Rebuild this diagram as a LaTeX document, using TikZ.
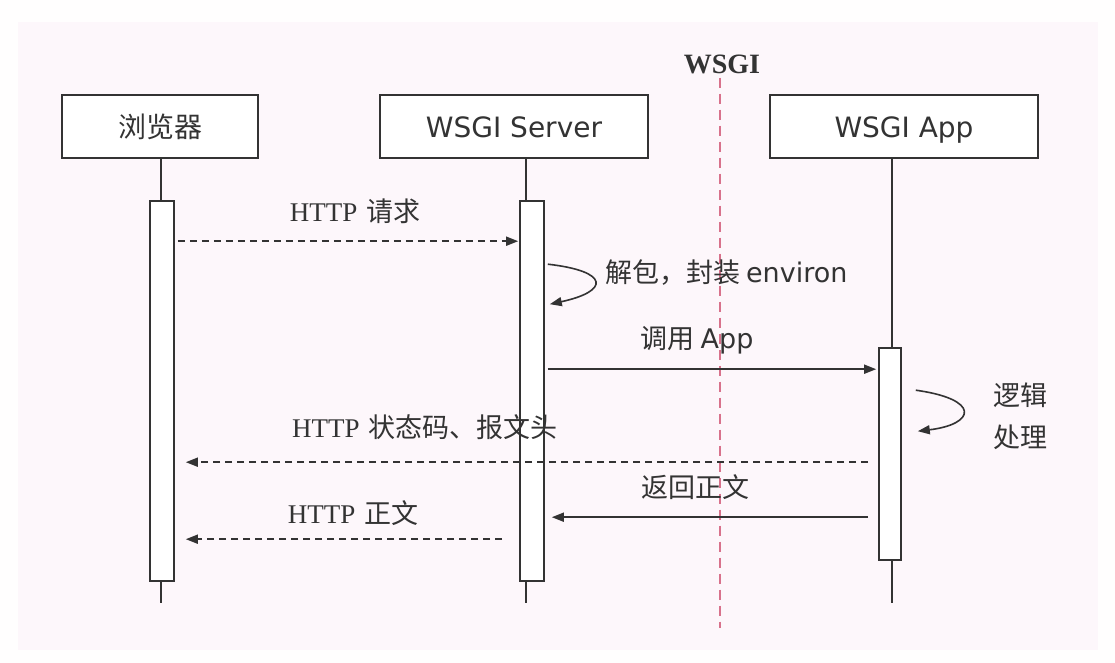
\documentclass[tikz,border=0pt]{standalone}
\usepackage{fontspec}
\setmainfont{DejaVu Sans}
\newfontfamily\cjk{Noto Sans CJK SC}
\newfontfamily\tms{Liberation Serif}
\usetikzlibrary{arrows.meta,calc}
\definecolor{ink}{HTML}{333333}
\definecolor{bgpink}{HTML}{FDF7FB}
\definecolor{cut}{HTML}{D8728C}
\tikzset{msg/.style={draw=ink, line width=1.6pt, -{Triangle[length=12pt,width=9pt]}},
  ret/.style={msg, dash pattern=on 7pt off 5pt},
  life/.style={draw=ink, line width=1.6pt},
  actor/.style={draw=ink, line width=2pt, fill=white, minimum height=63pt, inner sep=0pt, text=ink,
    text height=24pt, text depth=3pt, font=\fontsize{28}{32}\selectfont},
  bar/.style={draw=ink, line width=1.6pt, fill=white, minimum width=24pt, inner sep=0pt},
  lbl/.style={inner sep=0pt, text=ink, font=\fontsize{27}{32}\selectfont}}

\begin{document}
\begin{tikzpicture}[x=1pt,y=-1pt]
  \fill[white!98!pink] (0,0) rectangle (1115,663);
  \fill[bgpink] (18,22) rectangle (1098,650);
  % participants
  \node[actor, minimum width=196pt] (brw) at (160,127) {\cjk 浏览器};
  \node[actor, minimum width=268pt] (srv) at (514,127) {WSGI Server};
  \node[actor, minimum width=268pt] (app) at (904,127) {WSGI App};
  % interface line
  \node[inner sep=0pt, text=ink, font=\tms\bfseries\fontsize{28}{30}\selectfont] (wsgi) at (722,64) {WSGI};
  \coordinate (cutend) at (720,628);
  \draw[cut, line width=1.4pt, dash pattern=on 10pt off 6pt] (wsgi.south -| cutend) ++(0,4) -- (cutend);
  % activation bars
  \node[bar, minimum height=380pt] (bbar) at (162,391) {};
  \node[bar, minimum height=380pt] (sbar) at (532,391) {};
  \node[bar, minimum width=22pt, minimum height=212pt] (abar) at (890,454) {};
  \coordinate (bend) at (161,603);
  \coordinate (send) at (526,603);
  \coordinate (aend) at (892,603);
  \draw[life] (brw.south -| bend) -- (bbar.north -| bend);
  \draw[life] (bbar.south -| bend) -- (bend);
  \draw[life] (srv.south -| send) -- (sbar.north -| send);
  \draw[life] (sbar.south -| send) -- (send);
  \draw[life] (app.south -| aend) -- (abar.north -| aend);
  \draw[life] (abar.south -| aend) -- (aend);
  % request
  \draw[ret] ($(bbar.north east)+(3,41)$) -- ($(sbar.north west)+(-1,41)$)
    node[lbl, midway, above=17pt, xshift=7pt] (req) {{\tms HTTP} {\cjk 请求}};
  \draw[msg] ($(sbar.north east)+(3,64)$) .. controls +(62,7) and +(60,-13) .. ($(sbar.north east)+(5,104)$);
  \node[lbl, anchor=west] (unpack) at ($(sbar.north east)+(60,72)$) {\cjk 解包，封装 \rmfamily environ};
  \draw[msg] ($(sbar.north east)+(3,169)$) -- ($(abar.north west)+(-2,22)$)
    node[lbl, midway, above=14pt, xshift=-15pt] (call) {\cjk 调用 \rmfamily App};
  % app
  \draw[msg] ($(abar.north east)+(14,43)$) .. controls +(65,9) and +(58,-7) .. ($(abar.north east)+(16,84)$);
  \node[lbl, align=center, font=\cjk\fontsize{27}{42}\selectfont] (logic) at (1020,416) {逻辑\\处理};
  % responses
  \draw[ret] ($(abar.north west)+(-10,115)$) -- ($(bbar.north east)+(11,262)$)
    node[lbl, pos=0.65, above=22pt] (head) {{\tms HTTP} {\cjk 状态码、报文头}};
  \draw[msg] ($(abar.north west)+(-10,170)$) -- ($(sbar.north east)+(7,317)$)
    node[lbl, midway, above=17pt, xshift=-15pt] (back) {\cjk 返回正文};
  \draw[ret] ($(sbar.north west)+(-17,339)$) -- ($(bbar.north east)+(11,339)$)
    node[lbl, midway, above=13pt, xshift=9pt] (body) {{\tms HTTP} {\cjk 正文}};
\end{tikzpicture}
\end{document}
